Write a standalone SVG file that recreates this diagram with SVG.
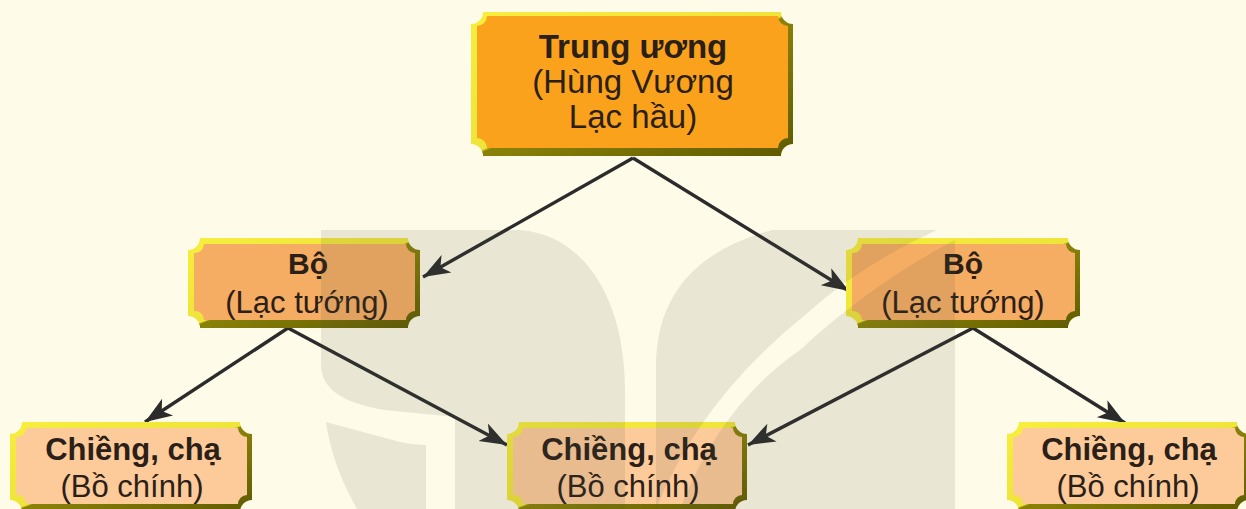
<svg xmlns="http://www.w3.org/2000/svg" width="1246" height="509" viewBox="0 0 1246 509">
<style>
text{font-family:"Liberation Sans",Arial,sans-serif;fill:#2a2018;text-anchor:middle}
.b{font-weight:700}
.edge{fill:url(#bevel)}
.link{stroke:#2b2b2b;stroke-width:3.4;fill:none;marker-end:url(#arrow)}
.wm{fill:#4f5540;fill-opacity:.12}
.t1{font-size:33px}.t2{font-size:31px}.t3{font-size:30px}
</style>
<defs>
<linearGradient id="bevel" x1="0" y1="0" x2="1" y2="1">
<stop offset="0" stop-color="#f7ee3e"/><stop offset=".495" stop-color="#efe43a"/><stop offset=".505" stop-color="#8a8208"/><stop offset="1" stop-color="#5f5a00"/>
</linearGradient>
<marker id="arrow" markerUnits="userSpaceOnUse" markerWidth="30" markerHeight="24" refX="27" refY="12" orient="auto">
<path d="M0 2 L27 12 L0 22 L7 12 Z" fill="#2b2b2b"/>
</marker>
</defs>
<rect width="1246" height="509" fill="#fefce8"/>
<g id="connectors">
<path class="link" d="M633 158 L423 277"/>
<path class="link" d="M633 158 L849 291"/>
<path class="link" d="M288 328 L145 422"/>
<path class="link" d="M288 328 L507 445"/>
<path class="link" d="M973 328 L748 445"/>
<path class="link" d="M973 328 L1125 423"/>
</g>
<g id="node-trung-uong">
<path class="edge" d="M483 12H781A12 12 0 0 0 793 24V144A12 12 0 0 0 781 156H483A12 12 0 0 0 471 144V24A12 12 0 0 0 483 12Z"/>
<path fill="#faa21b" d="M487 16H778A10 10 0 0 0 788 26V138A10 10 0 0 0 778 148H487A10 10 0 0 0 477 138V26A10 10 0 0 0 487 16Z"/>
<text class="b t1" x="633" y="58">Trung ương</text>
<text class="t1" x="633" y="93">(Hùng Vương</text>
<text class="t1" x="633" y="128">Lạc hầu)</text>
</g>
<g id="node-bo-left">
<path class="edge" d="M200 238H408A12 12 0 0 0 420 250V316A12 12 0 0 0 408 328H200A12 12 0 0 0 188 316V250A12 12 0 0 0 200 238Z"/>
<path fill="#f5ac63" d="M204 244H406A9 9 0 0 0 415 253V311A9 9 0 0 0 406 320H204A9 9 0 0 0 194 311V253A9 9 0 0 0 204 244Z"/>
<text class="b t3" x="308" y="274">Bộ</text>
<text class="t2" x="307" y="313">(Lạc tướng)</text>
</g>
<g id="node-bo-right">
<path class="edge" d="M858 238H1068A12 12 0 0 0 1080 250V316A12 12 0 0 0 1068 328H858A12 12 0 0 0 846 316V250A12 12 0 0 0 858 238Z"/>
<path fill="#f5ac63" d="M862 244H1066A9 9 0 0 0 1075 253V311A9 9 0 0 0 1066 320H862A9 9 0 0 0 852 311V253A9 9 0 0 0 862 244Z"/>
<text class="b t3" x="963" y="274">Bộ</text>
<text class="t2" x="963" y="313">(Lạc tướng)</text>
</g>
<g id="node-chieng-left">
<path class="edge" d="M22 422H240A12 12 0 0 0 252 434V500A12 12 0 0 0 240 512H22A12 12 0 0 0 10 500V434A12 12 0 0 0 22 422Z"/>
<path fill="#fdcb9a" d="M26 428H238A9 9 0 0 0 247 437V495A9 9 0 0 0 238 504H26A9 9 0 0 0 16 495V437A9 9 0 0 0 26 428Z"/>
<text class="b t2" x="133" y="460">Chiềng, chạ</text>
<text class="t2" x="132" y="497">(Bồ chính)</text>
</g>
<g id="node-chieng-mid">
<path class="edge" d="M519 422H735A12 12 0 0 0 747 434V500A12 12 0 0 0 735 512H519A12 12 0 0 0 507 500V434A12 12 0 0 0 519 422Z"/>
<path fill="#fdcb9a" d="M523 428H733A9 9 0 0 0 742 437V495A9 9 0 0 0 733 504H523A9 9 0 0 0 513 495V437A9 9 0 0 0 523 428Z"/>
<text class="b t2" x="629" y="460">Chiềng, chạ</text>
<text class="t2" x="628" y="497">(Bồ chính)</text>
</g>
<g id="node-chieng-right">
<path class="edge" d="M1019 422H1237A12 12 0 0 0 1249 434V500A12 12 0 0 0 1237 512H1019A12 12 0 0 0 1007 500V434A12 12 0 0 0 1019 422Z"/>
<path fill="#fdcb9a" d="M1023 428H1235A9 9 0 0 0 1244 437V495A9 9 0 0 0 1235 504H1023A9 9 0 0 0 1013 495V437A9 9 0 0 0 1023 428Z"/>
<text class="b t2" x="1129" y="460">Chiềng, chạ</text>
<text class="t2" x="1128" y="497">(Bồ chính)</text>
</g>
<g id="watermark">
<path class="wm" d="M321 230H520C585 235 625 300 625 390V509H455V417L385 410Q321 400 321 365Z"/>
<path class="wm" d="M326 422L400 442Q415 445 426 445V509H357Q332 465 326 422Z"/>
<path class="wm" d="M772 230H937Q860 265 805 315Q700 400 656 509V360Q660 260 772 230Z"/>
<path class="wm" d="M955 240V509H680Q720 405 800 350Q870 285 955 240Z"/>
</g>
</svg>
